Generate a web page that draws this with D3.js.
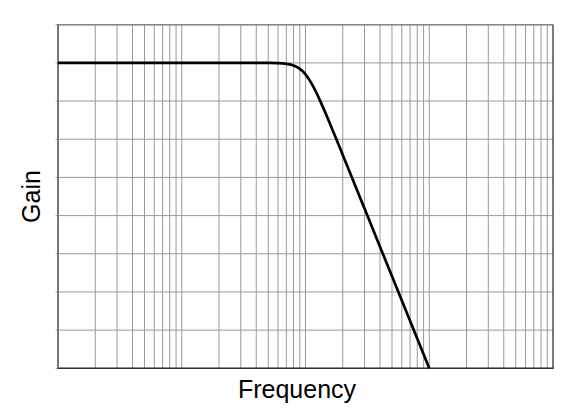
<!DOCTYPE html>
<html>
<head>
<meta charset="utf-8">
<script src="https://cdn.jsdelivr.net/npm/d3@7/dist/d3.min.js"></script>
<style>
  html, body { margin: 0; padding: 0; background: #fff; }
  svg { display: block; }
  text { font-family: "Liberation Sans", Arial, Helvetica, sans-serif; fill: #000; }
</style>
</head>
<body>
<svg id="chart" width="581" height="419"></svg>
<script>
// Frequency (Hz) and gain (dB)
const frequency = [1, 10, 30, 40, 50, 60, 70, 80, 85, 90, 95, 100, 105, 110, 115, 120, 130, 140, 150, 170, 200, 250, 300, 500, 1000];
const gainDb    = [0, 0, 0, 0, -0.02, -0.07, -0.24, -0.67, -1.05, -1.56, -2.21, -3.01, -3.94, -4.97, -6.08, -7.24, -9.62, -11.98, -14.25, -18.5, -24.1, -31.84, -38.17, -55.92, -80];
const xDomain = [1, 10000];
const yTicks  = [-80, -70, -60, -50, -40, -30, -20, -10, 0, 10];
const xLabel = "Frequency";
const yLabel = "Gain";

const svg = d3.select("#chart");
const L = 58, R = 553, T = 24.7, B = 368.3;

const x = d3.scaleLog().domain(xDomain).range([L, R]);
const y = d3.scaleLinear().domain([d3.min(yTicks), d3.max(yTicks)]).range([B, T]);

// grid
const g = svg.append("g");
g.selectAll("line.vx").data(x.ticks()).join("line")
  .attr("x1", d => x(d)).attr("x2", d => x(d))
  .attr("y1", T).attr("y2", B)
  .attr("stroke", "#999").attr("stroke-width", 1);
g.selectAll("line.hy").data(yTicks).join("line")
  .attr("x1", L).attr("x2", R)
  .attr("y1", d => y(d)).attr("y2", d => y(d))
  .attr("stroke", "#999").attr("stroke-width", 1);

// small outward ticks on left
g.selectAll("line.tk").data(yTicks).join("line")
  .attr("x1", L - 2.5).attr("x2", L)
  .attr("y1", d => y(d)).attr("y2", d => y(d))
  .attr("stroke", "#aaa").attr("stroke-width", 1);

// frame
svg.append("line").attr("x1", L).attr("x2", R).attr("y1", T).attr("y2", T)
  .attr("stroke", "#888").attr("stroke-width", 1.6);
svg.append("line").attr("x1", R).attr("x2", R).attr("y1", T).attr("y2", B)
  .attr("stroke", "#444").attr("stroke-width", 1.2);
svg.append("line").attr("x1", L - 1).attr("x2", R + 0.6).attr("y1", B).attr("y2", B)
  .attr("stroke", "#333").attr("stroke-width", 1.4);
svg.append("line").attr("x1", L).attr("x2", L).attr("y1", T - 0.8).attr("y2", B)
  .attr("stroke", "#777").attr("stroke-width", 2);

// curve
const pts = frequency.map((f, i) => [f, gainDb[i]]);
svg.append("path")
  .datum(pts)
  .attr("fill", "none")
  .attr("stroke", "#000")
  .attr("stroke-width", 2.7)
  .attr("d", d3.line().x(d => x(d[0])).y(d => y(d[1])).curve(d3.curveMonotoneX));

// labels
svg.append("text")
  .attr("x", 297).attr("y", 398)
  .attr("text-anchor", "middle")
  .attr("font-size", 25)
  .text(xLabel);
svg.append("text")
  .attr("transform", `translate(40,${(T + B) / 2}) rotate(-90)`)
  .attr("text-anchor", "middle")
  .attr("font-size", 25)
  .text(yLabel);
</script>
</body>
</html>
